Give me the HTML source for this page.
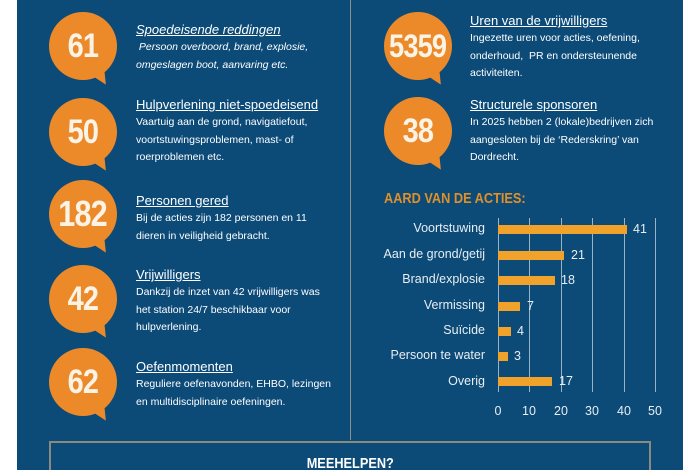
<!DOCTYPE html>
<html style="width:700px;height:470px;overflow:hidden"><head><meta charset="utf-8"><style>
*{margin:0;padding:0;box-sizing:border-box}
body{width:700px;height:470px;background:#fff;position:relative;overflow:hidden;font-family:"Liberation Sans",sans-serif}
#p{position:absolute;left:17px;top:0;width:666px;height:470px;background:#0c4a78}
.div{position:absolute;left:350px;top:0;width:1px;height:440px;background:#8a8f88}
.c{position:absolute;width:68px;height:68px;border-radius:50%;background:#ec8a2a;color:#fbf4e6;font-weight:bold;font-size:34px;display:flex;align-items:center;justify-content:center}
.c span{display:inline-block;transform:scaleX(0.85);letter-spacing:-1px}
.c:after{content:"";position:absolute;right:10px;bottom:-6px;border-left:9px solid transparent;border-right:3px solid transparent;border-top:12px solid #ec8a2a;transform:rotate(-20deg)}
.t{position:absolute;color:#fff;font-size:10.5px;line-height:17.5px;white-space:nowrap}
.t b{display:block;font-weight:normal;font-size:13px;text-decoration:underline;line-height:16px;margin-bottom:1px}
.lab{position:absolute;right:215px;color:#e8eef2;font-size:12.5px;text-align:right;white-space:nowrap}
.bar{position:absolute;left:498px;height:9px;background:#f0a22a}
.v{position:absolute;color:#e8eef2;font-size:12.5px}
.g{position:absolute;top:218px;width:1px;height:174px;background:#9bb3c6}
.tk{position:absolute;top:404px;color:#e8eef2;font-size:12.5px;width:30px;text-align:center}
</style></head><body>
<div id="p"></div>
<div class="div"></div>
<div style="position:absolute;left:520px;top:-11px;color:#fff;font-weight:bold;font-size:12px;letter-spacing:2px">KEREN IN CIJFERS</div>

<div class="c" style="left:49px;top:12px"><span>61</span></div>
<div class="t" style="left:136px;top:22px"><b><i>Spoedeisende reddingen</i></b><i>&nbsp;Persoon overboord, brand, explosie,<br>omgeslagen boot, aanvaring etc.</i></div>
<div class="c" style="left:49px;top:98px"><span>50</span></div>
<div class="t" style="left:136px;top:97px"><b>Hulpverlening niet-spoedeisend</b>Vaartuig aan de grond, navigatiefout,<br>voortstuwingsproblemen, mast- of<br>roerproblemen etc.</div>
<div class="c" style="left:49px;top:180px;font-size:36px"><span>182</span></div>
<div class="t" style="left:136px;top:193px"><b>Personen gered</b>Bij de acties zijn 182 personen en 11<br>dieren in veiligheid gebracht.</div>
<div class="c" style="left:49px;top:265px"><span>42</span></div>
<div class="t" style="left:136px;top:267px"><b>Vrijwilligers</b>Dankzij de inzet van 42 vrijwilligers was<br>het station 24/7 beschikbaar voor<br>hulpverlening.</div>
<div class="c" style="left:49px;top:348px"><span>62</span></div>
<div class="t" style="left:136px;top:359px"><b>Oefenmomenten</b>Reguliere oefenavonden, EHBO, lezingen<br>en multidisciplinaire oefeningen.</div>

<div class="c" style="left:384px;top:12px;font-size:32px"><span>5359</span></div>
<div class="t" style="left:470px;top:13px"><b>Uren van de vrijwilligers</b>Ingezette uren voor acties, oefening,<br>onderhoud,&nbsp; PR en ondersteunende<br>activiteiten.</div>
<div class="c" style="left:384px;top:97px"><span>38</span></div>
<div class="t" style="left:470px;top:97px"><b>Structurele sponsoren</b>In 2025 hebben 2 (lokale)bedrijven zich<br>aangesloten bij de ‘Rederskring’ van<br>Dordrecht.</div>

<div style="position:absolute;left:384px;top:190px;color:#e0902a;font-weight:bold;font-size:15px;transform:scaleX(0.85);transform-origin:left">AARD VAN DE ACTIES:</div>
<div class="g" style="left:498px"></div><div class="g" style="left:529px"></div><div class="g" style="left:561px"></div><div class="g" style="left:592px"></div><div class="g" style="left:624px"></div><div class="g" style="left:655px"></div>
<div class="lab" style="top:221px">Voortstuwing</div><div class="bar" style="top:225px;width:129px"></div><div class="v" style="left:633px;top:222px">41</div>
<div class="lab" style="top:247px">Aan de grond/getij</div><div class="bar" style="top:251px;width:66px"></div><div class="v" style="left:571px;top:248px">21</div>
<div class="lab" style="top:272px">Brand/explosie</div><div class="bar" style="top:276px;width:57px"></div><div class="v" style="left:561px;top:273px">18</div>
<div class="lab" style="top:298px">Vermissing</div><div class="bar" style="top:302px;width:22px"></div><div class="v" style="left:527px;top:299px">7</div>
<div class="lab" style="top:323px">Suïcide</div><div class="bar" style="top:327px;width:13px"></div><div class="v" style="left:517px;top:324px">4</div>
<div class="lab" style="top:348px">Persoon te water</div><div class="bar" style="top:352px;width:10px"></div><div class="v" style="left:514px;top:349px">3</div>
<div class="lab" style="top:374px">Overig</div><div class="bar" style="top:377px;width:54px"></div><div class="v" style="left:559px;top:374px">17</div>
<div class="tk" style="left:483px">0</div><div class="tk" style="left:514px">10</div><div class="tk" style="left:546px">20</div><div class="tk" style="left:577px">30</div><div class="tk" style="left:609px">40</div><div class="tk" style="left:640px">50</div>

<div style="position:absolute;left:49px;top:441px;width:602px;height:29px;border:2px solid #8a8a7e;border-bottom:none"></div>
<div style="position:absolute;left:0;width:700px;top:455px;text-align:center;color:#fff;font-weight:bold;font-size:15px"><span style="display:inline-block;transform:scaleX(0.85)">MEEHELPEN?</span></div>
</body></html>
